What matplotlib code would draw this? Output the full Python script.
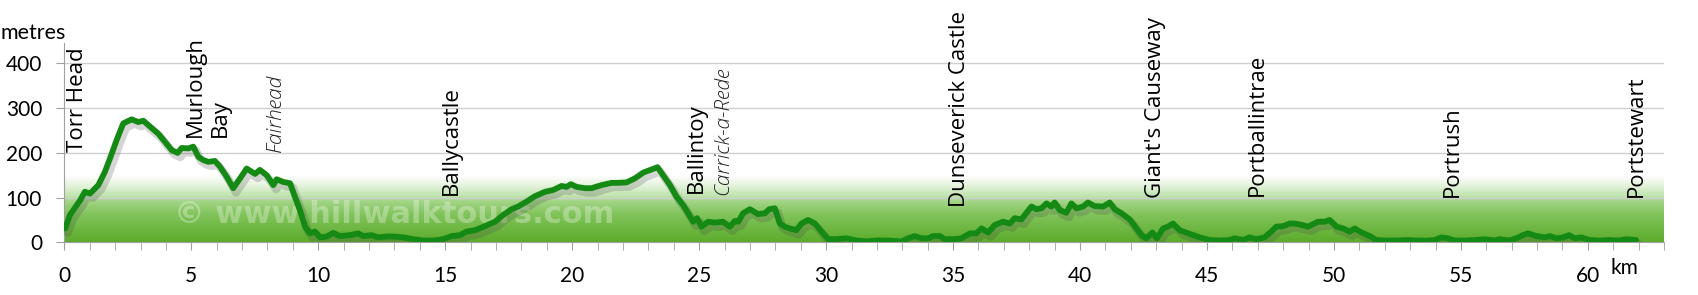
import numpy as np
import matplotlib
matplotlib.use("Agg")
import matplotlib.pyplot as plt
import matplotlib.patheffects as pe
from matplotlib.transforms import blended_transform_factory

# ---- data ----
dist_km = [0.03, 0.22, 0.49, 0.62, 0.81, 1.01, 1.34, 1.60, 1.80, 2.06, 2.32, 2.65, 2.91, 3.11, 3.31,
           3.70, 3.96, 4.23, 4.46, 4.62, 4.88, 5.08, 5.28, 5.47, 5.67, 5.93, 6.13, 6.39, 6.65, 6.92,
           7.18, 7.51, 7.70, 7.97, 8.23, 8.36, 8.62, 8.89, 9.08, 9.28, 9.48, 9.67, 9.87, 10.07, 10.33,
           10.59, 10.85, 11.25, 11.57, 11.77, 12.10, 12.36, 12.69, 12.95, 13.35, 13.74, 14.13, 14.53,
           14.92, 15.25, 15.58, 15.84, 16.17, 16.56, 16.96, 17.28, 17.61, 17.87, 18.20, 18.53, 18.93,
           19.25, 19.58, 19.78, 19.95, 20.17, 20.50, 20.76, 21.16, 21.55, 21.81, 22.14, 22.47, 22.80,
           23.13, 23.36, 23.58, 23.85, 24.11, 24.37, 24.57, 24.76, 24.92, 25.09, 25.35, 25.62, 25.94,
           26.21, 26.41, 26.54, 26.73, 27.00, 27.32, 27.59, 27.76, 27.98, 28.18, 28.37, 28.57, 28.83,
           29.03, 29.29, 29.56, 29.82, 30.08, 30.41, 30.80, 31.19, 31.59, 31.98, 32.44, 32.97, 33.23,
           33.49, 33.76, 34.02, 34.21, 34.48, 34.67, 35.00, 35.33, 35.66, 35.92, 36.12, 36.38, 36.65,
           36.97, 37.23, 37.43, 37.69, 37.89, 38.09, 38.28, 38.48, 38.68, 38.87, 39.00, 39.20, 39.46,
           39.66, 39.86, 40.12, 40.31, 40.57, 40.91, 41.17, 41.36, 41.63, 41.96, 42.22, 42.42, 42.61,
           42.85, 43.03, 43.27, 43.46, 43.66, 43.92, 44.32, 44.71, 45.11, 45.50, 45.89, 46.09, 46.42,
           46.68, 46.94, 47.27, 47.53, 47.73, 47.99, 48.26, 48.45, 48.72, 48.98, 49.37, 49.64, 49.83,
           50.10, 50.36, 50.62, 50.82, 51.08, 51.41, 51.67, 52.00, 52.39, 52.91, 53.31, 53.70, 53.96,
           54.23, 54.49, 54.75, 55.15, 55.54, 55.93, 56.33, 56.52, 56.92, 57.18, 57.44, 57.64, 57.97,
           58.30, 58.50, 58.76, 59.02, 59.26, 59.48, 59.74, 60.07, 60.46, 60.85, 61.25, 61.51, 61.90]
elev_m = [31, 61, 83, 94, 113, 109, 128, 158, 188, 229, 266, 275, 269, 272, 262,
          243, 225, 206, 200, 211, 210, 214, 191, 184, 180, 182, 169, 147, 121, 143,
          165, 153, 162, 150, 128, 141, 135, 132, 102, 72, 35, 20, 24, 11, 13,
          21, 14, 16, 20, 14, 16, 11, 13, 13, 11, 7, 4, 4,
          7, 14, 16, 24, 27, 36, 46, 61, 74, 80, 91, 103, 113,
          117, 126, 124, 130, 124, 121, 121, 128, 133, 133, 134, 143, 156,
          163, 168, 150, 128, 102, 83, 65, 46, 54, 35, 46, 44, 46,
          35, 48, 46, 65, 74, 63, 65, 74, 76, 42, 35, 31, 27,
          42, 50, 42, 24, 7, 7, 9, 4, 2, 4, 4, 2, 9,
          14, 9, 9, 14, 14, 7, 7, 9, 20, 20, 31, 22, 39,
          46, 42, 54, 51, 66, 80, 74, 76, 87, 80, 89, 72, 66,
          87, 76, 80, 89, 81, 80, 89, 74, 65, 51, 31, 16, 9,
          22, 9, 31, 35, 42, 27, 19, 11, 5, 4, 5, 9, 5,
          11, 7, 11, 24, 35, 36, 42, 42, 39, 35, 46, 46, 50,
          35, 31, 24, 31, 22, 14, 5, 4, 4, 5, 4, 4, 5,
          11, 9, 4, 4, 5, 7, 4, 7, 4, 9, 16, 20, 14,
          11, 14, 9, 11, 16, 9, 11, 5, 4, 5, 4, 7, 5]

place_names = ["Torr Head", "Murlough\nBay", "Fairhead", "Ballycastle", "Ballintoy",
               "Carrick-a-Rede", "Dunseverick Castle", "Giant's Causeway", "Portballintrae",
               "Portrush", "Portstewart"]
place_km = [0.5, 5.64, 8.33, 15.25, 24.9, 25.94, 35.26, 42.98, 47.0, 54.67, 61.9]
place_base_m = [202, 235, 202, 106, 110, 106, 79, 99, 103, 101, 101]
place_italic = [False, False, True, False, False, True, False, False, False, False, False]

x_ticks = [0, 5, 10, 15, 20, 25, 30, 35, 40, 45, 50, 55, 60]
y_ticks = [0, 100, 200, 300, 400]

# ---- figure ----
fig = plt.figure(figsize=(16.98, 2.95), dpi=100)
ax = fig.add_axes([0.0379, 0.1786, 0.980 - 0.0379, 0.853 - 0.1786])
ax.set_xlim(0, 63)
ax.set_ylim(0, 445)

# green gradient background
top_grad = 148
ny = 300
ys = np.linspace(0, top_grad, ny)
stops = np.array([0, 60, 92, 102, 125, 148])
cols = np.array([[92, 172, 44], [128, 195, 90], [165, 214, 138], [192, 228, 175],
                 [228, 243, 220], [255, 255, 255]]) / 255.0
grad = np.zeros((ny, 1, 3))
for c in range(3):
    grad[:, 0, c] = np.interp(ys, stops, cols[:, c])
ax.imshow(grad[::-1], extent=[0, 63, 0, top_grad], aspect='auto', zorder=0,
          interpolation='bilinear')

# grid
for yv in y_ticks[1:]:
    ax.axhline(yv, color='#cfcfcf', lw=1.0, zorder=1)

# watermark
ax.text(4.3, 62, "\u00a9 www.hillwalktours.com", fontsize=22, fontweight='bold',
        family='DejaVu Sans', color='white', alpha=0.3, ha='left', va='center', zorder=2)

# profile line
ax.plot(dist_km, elev_m, color='#148a14', lw=4.2, zorder=4, solid_joinstyle='round',
        solid_capstyle='round',
        path_effects=[pe.SimpleLineShadow(offset=(2, -3), shadow_color='#444444', alpha=0.22,
                                          linewidth=6),
                      pe.Normal()])

# place labels
for name, xk, yb, it in zip(place_names, place_km, place_base_m, place_italic):
    if it:
        ax.text(xk, yb, name, rotation=90, ha='center', va='bottom', fontsize=15,
                family='Open Sans', fontstyle='italic', fontweight='light', color='#222222',
                zorder=5)
    else:
        ax.text(xk, yb, name, rotation=90, ha='center', va='bottom', fontsize=16,
                family='Open Sans', color='black', zorder=5, linespacing=1.25,
                multialignment='left')

# axes styling
for s in ['top', 'right']:
    ax.spines[s].set_visible(False)
ax.spines['left'].set_color('#a0a0a0')
ax.spines['bottom'].set_color('#a0a0a0')
ax.set_xticks(x_ticks)
ax.set_xticks(np.arange(0, 64, 1), minor=True)
ax.set_yticks(y_ticks)
ax.tick_params(axis='x', which='both', length=6, color='#a0a0a0', direction='out')
ax.tick_params(axis='y', length=6, color='#a0a0a0', direction='out')
ax.tick_params(axis='x', pad=11, labelsize=15)
ax.tick_params(axis='y', pad=10, labelsize=15)
for lab in ax.get_xticklabels() + ax.get_yticklabels():
    lab.set_family('Lato')

fig.text(0.0, 1 - 33 / 295, "metres", fontsize=15.5, family='Lato', ha='left', va='center')
trans = blended_transform_factory(ax.transData, fig.transFigure)
ax.text(61.45, 1 - 268 / 295, "km", transform=trans, fontsize=15, family='Lato',
        ha='center', va='center')

fig.savefig("out.png", dpi=100, facecolor='white')
